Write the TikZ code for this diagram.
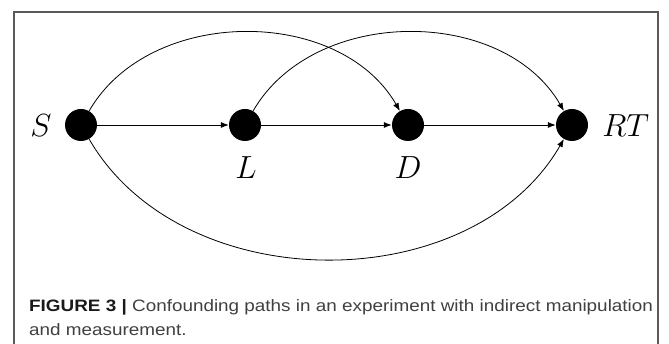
\documentclass[tikz,border=0pt]{standalone}
\usepackage{fontspec}
\setsansfont{Liberation Sans}[FakeStretch=1.145]
\usetikzlibrary{arrows.meta}
\begin{document}
\begin{tikzpicture}[x=1pt,y=1pt,
  dot/.style={circle,fill=black,inner sep=0pt,minimum size=32pt},
  lbl/.style={font=\Huge, scale=1.286, inner sep=0pt, anchor=base},
  edge/.style={-{Latex[length=8pt,width=6pt]}, line width=0.8pt},
  captext/.style={font=\sffamily\fontsize{16.5}{20}\selectfont, text=black!75, inner sep=0pt, anchor=base west}]
\useasboundingbox (0,0) rectangle (669,-344);
\begin{scope}
  \clip (0,0) rectangle (669,-344);
  \draw[black!65, line width=1.2pt] (14,-12) rectangle (658,-400);
\end{scope}
\node[dot] (S) at (81,-125) {};
\node[dot] (L) at (245,-125) {};
\node[dot] (D) at (408,-125) {};
\node[dot] (RT) at (572,-125) {};
\node[lbl] (Slbl) at (41,-137) {$S$};
\node[lbl] (Llbl) at (246,-179) {$L$};
\node[lbl] (Dlbl) at (408,-179) {$D$};
\node[lbl, anchor=base west] (RTlbl) at (602,-137) {$RT$};
\draw[edge] (S) -- (L);
\draw[edge] (L) -- (D);
\draw[edge] (D) -- (RT);
\draw[edge] (S) to[out=60,in=120] (D);
\draw[edge] (L) to[out=60,in=120] (RT);
\draw[edge] (S) to[out=-60,in=-120] (RT);
\node[captext] (cap1) at (29,-312) {\textbf{\color{black!90}FIGURE 3 |} Confounding paths in an experiment with indirect manipulation};
\node[captext] (cap2) at (29,-336) {and measurement.};
\end{tikzpicture}
\end{document}
